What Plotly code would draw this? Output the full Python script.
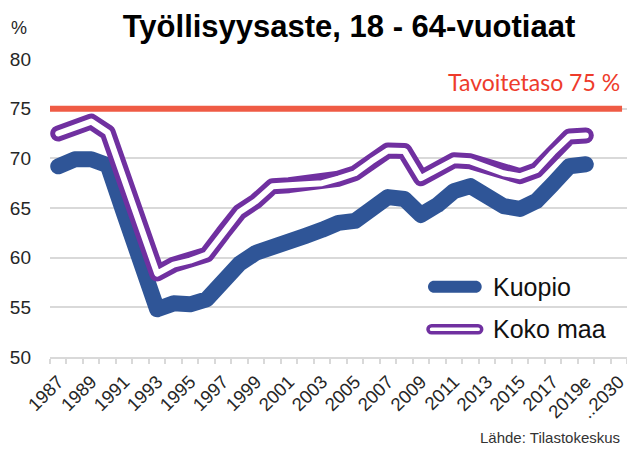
import plotly.graph_objects as go

# ---------------- data ----------------
CATEGORIES = [str(y) for y in range(1987, 2019)] + ["2019e", "2020e", "..2030"]
TICK_LABELS = ["1987", "1989", "1991", "1993", "1995", "1997", "1999", "2001", "2003",
               "2005", "2007", "2009", "2011", "2013", "2015", "2017", "2019e", "..2030"]
KUOPIO = [69.2, 69.9, 69.9, 69.3, 64.4, 59.5, 54.8, 55.4, 55.3, 55.8, 57.6, 59.4, 60.5,
          61.2, 61.7, 62.2, 62.8, 63.5, 63.7, 65.0, 66.1, 65.9, 64.3, 65.3, 66.7, 67.2,
          66.2, 65.2, 64.9, 65.7, 67.4, 69.2, 69.4]
KOKO_MAA = [72.5, 73.1, 73.7, 72.6, 67.9, 63.1, 58.4, 59.3, 59.7, 60.3, 62.5, 64.6, 65.7,
            67.2, 67.3, 67.4, 67.5, 67.95, 68.5, 69.7, 70.8, 70.75, 68.0, 68.9, 69.8, 69.7,
            69.1, 68.5, 68.2, 68.8, 70.6, 72.2, 72.3]
TARGET = 75
Y_TICKS = [50, 55, 60, 65, 70, 75, 80]

# ---------------- geometry helpers ----------------
W, H = 627, 449
ML, MR, MT, MB = 50, 0, 59.3, 92.3
PW, PH = W - ML - MR, H - MT - MB


def px(x, y):
    return (x - ML) / PW, (H - MB - y) / PH


def capsule(x1, x2, yc, r):
    k = 0.5523 * r
    pts = [("M", [(x1, yc - r)]), ("L", [(x2, yc - r)]),
           ("C", [(x2 + k, yc - r), (x2 + r, yc - k), (x2 + r, yc)]),
           ("C", [(x2 + r, yc + k), (x2 + k, yc + r), (x2, yc + r)]),
           ("L", [(x1, yc + r)]),
           ("C", [(x1 - k, yc + r), (x1 - r, yc + k), (x1 - r, yc)]),
           ("C", [(x1 - r, yc - k), (x1 - k, yc - r), (x1, yc - r)])]
    s = ""
    for cmd, ps in pts:
        s += cmd + " " + " ".join("%.5f,%.5f" % px(a, b) for a, b in ps) + " "
    return s + "Z"


BLUE = "#2F5597"
PURPLE = "#7030A0"
RED_LINE = "#EF5B45"
RED_TEXT = "#EE3B2B"
GRID = "#D9D9D9"
TXT = "#262626"
FONT = "Liberation Sans, Arial, sans-serif"

xk = list(range(len(KUOPIO)))
xm = list(range(len(KOKO_MAA)))

fig = go.Figure()
fig.add_trace(go.Scatter(x=xk, y=KUOPIO, mode="lines", name="Kuopio",
                         line=dict(color=BLUE, width=16), showlegend=False,
                         hoverinfo="skip"))
fig.add_trace(go.Scatter(x=xm, y=KOKO_MAA, mode="lines", name="Koko maa",
                         line=dict(color=PURPLE, width=16), showlegend=False,
                         hoverinfo="skip"))
fig.add_trace(go.Scatter(x=xm, y=KOKO_MAA, mode="lines", name="Koko maa (inner)",
                         line=dict(color="white", width=6), showlegend=False,
                         hoverinfo="skip"))

shapes = [
    dict(type="line", xref="x", yref="y", x0=-0.5, x1=34.2, y0=TARGET, y1=TARGET,
         line=dict(color=RED_LINE, width=6)),
    dict(type="path", xref="paper", yref="paper", path=capsule(434, 475.7, 286.7, 6),
         fillcolor=BLUE, line=dict(width=0)),
    dict(type="path", xref="paper", yref="paper", path=capsule(431.6, 478.1, 329, 3.6),
         fillcolor="white", line=dict(color=PURPLE, width=3.5)),
]

annotations = [
    dict(text="Tavoitetaso 75 %", xref="paper", yref="paper",
         x=px(622, 0)[0], y=px(0, 82)[1], xanchor="right", yanchor="middle",
         showarrow=False, font=dict(family="Lato, sans-serif", size=23, color=RED_TEXT)),
    dict(text="Kuopio", xref="paper", yref="paper", x=px(490.7, 0)[0], y=px(0, 287)[1],
         xanchor="left", yanchor="middle", showarrow=False,
         font=dict(family=FONT, size=25, color="#111111")),
    dict(text="Koko maa", xref="paper", yref="paper", x=px(490.7, 0)[0], y=px(0, 329)[1],
         xanchor="left", yanchor="middle", showarrow=False,
         font=dict(family=FONT, size=25, color="#111111")),
    dict(text="%", xref="paper", yref="paper", x=px(19, 0)[0], y=px(0, 28)[1],
         xanchor="center", yanchor="middle", showarrow=False,
         font=dict(family=FONT, size=18, color=TXT)),
    dict(text="Lähde: Tilastokeskus", xref="paper", yref="paper", x=px(622, 0)[0],
         y=px(0, 437)[1], xanchor="right", yanchor="middle", showarrow=False,
         font=dict(family=FONT, size=15, color="#333333")),
]

fig.update_layout(
    width=W, height=H,
    margin=dict(l=ML, r=MR, t=MT, b=MB, pad=0),
    paper_bgcolor="white", plot_bgcolor="white",
    showlegend=False,
    title=dict(text="<b>Työllisyysaste, 18 - 64-vuotiaat</b>", xref="container",
               yref="container", x=349 / W, y=1 - 26 / H, xanchor="center",
               yanchor="middle", font=dict(family=FONT, size=31, color="#000000")),
    shapes=shapes,
    annotations=annotations,
    font=dict(family=FONT, color=TXT),
)

fig.update_xaxes(
    range=[-0.5, len(CATEGORIES) - 0.5],
    tickmode="array",
    tickvals=[CATEGORIES.index(t) for t in TICK_LABELS],
    ticktext=TICK_LABELS,
    tickangle=-45,
    ticks="",
    tickfont=dict(family=FONT, size=18.5, color=TXT),
    ticklabeloverflow="allow",
    showgrid=False, zeroline=False,
    showline=True, linecolor=GRID, linewidth=1.5,
    minor=dict(tickmode="linear", tick0=-0.5, dtick=1, ticks="outside", ticklen=5,
               tickwidth=1.5, tickcolor=GRID, showgrid=False),
    ticklabelstandoff=5,
    fixedrange=True,
)
fig.update_yaxes(
    range=[50, 80],
    tickmode="array", tickvals=Y_TICKS,
    ticks="",
    tickfont=dict(family=FONT, size=19, color=TXT),
    showgrid=True, gridcolor=GRID, gridwidth=1.5,
    zeroline=False, showline=False,
    ticklabelstandoff=18,
    fixedrange=True,
)

post = """
document.body.style.margin='0';
document.body.style.padding='0';
document.documentElement.style.margin='0';
document.documentElement.style.padding='0';
function fixLines(){
  var gd = document.getElementById('{plot_id}');
  if(!gd) return;
  gd.querySelectorAll('.scatterlayer path.js-line').forEach(function(p){
     p.style.strokeLinejoin='round'; p.style.strokeLinecap='round';
  });
}
fixLines();
var gd0 = document.getElementById('{plot_id}');
if (gd0 && gd0.on) gd0.on('plotly_afterplot', fixLines);
setTimeout(fixLines, 30);
"""

fig.write_html("out.html", post_script=post, config={"displayModeBar": False})
